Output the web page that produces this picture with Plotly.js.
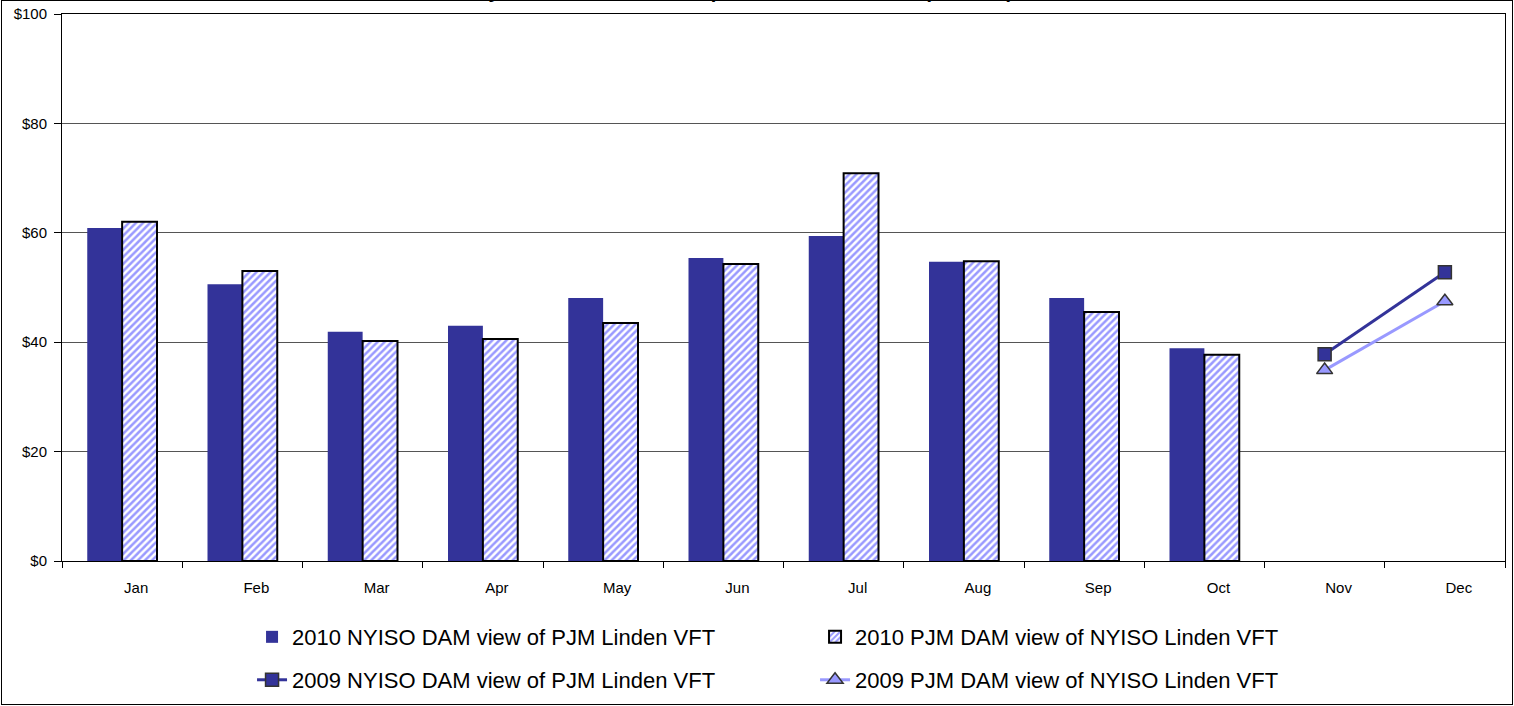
<!DOCTYPE html>
<html><head><meta charset="utf-8">
<script src="https://cdn.plot.ly/plotly-3.0.1.min.js"></script>
<style>
html,body{margin:0;padding:0;background:#fff;}
#wrap{position:relative;width:1514px;height:706px;}
#chart{width:1514px;height:706px;}
#frame{position:absolute;left:1px;top:0;width:1510px;height:703px;border:1px solid #000;pointer-events:none;}
</style></head>
<body><div id="wrap"><div id="chart"></div><div id="frame"></div></div>
<script>
const months = ['Jan','Feb','Mar','Apr','May','Jun','Jul','Aug','Sep','Oct','Nov','Dec'];
const barMonths = ['Jan','Feb','Mar','Apr','May','Jun','Jul','Aug','Sep','Oct'];
const nyiso2010 = [60.9, 50.6, 41.9, 43.0, 48.1, 55.4, 59.4, 54.7, 48.1, 38.9];
const pjm2010 = [62.0, 53.0, 40.2, 40.6, 43.5, 54.3, 70.9, 54.8, 45.5, 37.7];
const lineMonths = ['Nov','Dec'];
const nyiso2009 = [37.8, 52.8];
const pjm2009 = [34.9, 47.5];
const yTicks = [0,20,40,60,80,100];
const yTickText = ['$0','$20','$40','$60','$80','$100'];
const names = ['2010 NYISO DAM view of PJM Linden VFT','2010 PJM DAM view of NYISO Linden VFT',
               '2009 NYISO DAM view of PJM Linden VFT','2009 PJM DAM view of NYISO Linden VFT'];
const title = 'Monthly NYISO Linden VFT Import Price Differences ($ / MWh)';

const traces = [
  {type:'bar', x:barMonths, y:nyiso2010, name:names[0], legend:'legend',
   marker:{color:'#333399', line:{color:'#333399', width:0}}},
  {type:'bar', x:barMonths, y:pjm2010, name:names[1], legend:'legend',
   marker:{color:'#ffffff', line:{color:'#000000', width:2},
     pattern:{shape:'/', fgcolor:'#9999ff', bgcolor:'#ffffff', size:5, solidity:0.5}}},
  {type:'scatter', mode:'lines+markers', x:lineMonths, y:nyiso2009, name:names[2], legend:'legend2',
   line:{color:'#333399', width:3},
   marker:{symbol:'square', size:13, color:'#333399', line:{color:'#333333', width:1.5}}},
  {type:'scatter', mode:'lines+markers', x:lineMonths, y:pjm2009, name:names[3], legend:'legend2',
   line:{color:'#9999ff', width:3},
   marker:{symbol:'triangle-up', size:14, color:'#9999ff', line:{color:'#333333', width:1.5}}}
];

const legFont = {family:'Arial, Liberation Sans, sans-serif', size:22, color:'#000'};
const layout = {
  width:1514, height:706,
  margin:{l:62, r:9, t:14, b:145, autoexpand:false},
  paper_bgcolor:'rgba(0,0,0,0)', plot_bgcolor:'#fff',
  font:{family:'Arial, Liberation Sans, sans-serif', color:'#000'},
  barmode:'group', bargap:0.42, bargroupgap:0,
  showlegend:true,
  xaxis:{type:'category', categoryorder:'array', categoryarray:months, range:[-0.5,11.5],
    showline:true, linecolor:'#000', linewidth:1, mirror:true,
    ticks:'outside', ticklen:6, tickcolor:'#000', tickson:'boundaries',
    showgrid:false, tickfont:{size:15}, ticklabelshift:14, ticklabelstandoff:13, fixedrange:true},
  yaxis:{range:[0,100], tickvals:yTicks, ticktext:yTickText,
    showline:true, linecolor:'#000', linewidth:1, mirror:true,
    ticks:'outside', ticklen:7, tickcolor:'#000', ticklabelstandoff:4,
    showgrid:true, gridcolor:'#555', gridwidth:1, zeroline:false, tickfont:{size:15}},
  legend:{orientation:'h', x:0.1317, xanchor:'left', y:-0.139, yanchor:'middle',
    font:legFont, entrywidth:518, entrywidthmode:'pixels', traceorder:'normal', bgcolor:'rgba(0,0,0,0)'},
  legend2:{orientation:'h', x:0.1317, xanchor:'left', y:-0.2175, yanchor:'middle',
    font:legFont, entrywidth:518, entrywidthmode:'pixels', traceorder:'normal', bgcolor:'rgba(0,0,0,0)'},
  annotations:[{text:'<b>'+title+'</b>', xref:'paper', yref:'paper', x:0.4544, y:1.0415,
    xanchor:'center', yanchor:'middle', showarrow:false,
    font:{family:'Arial, Liberation Sans, sans-serif', size:20, color:'#000'}}]
};
Plotly.newPlot('chart', traces, layout, {displayModeBar:false, staticPlot:true});
</script></body></html>
